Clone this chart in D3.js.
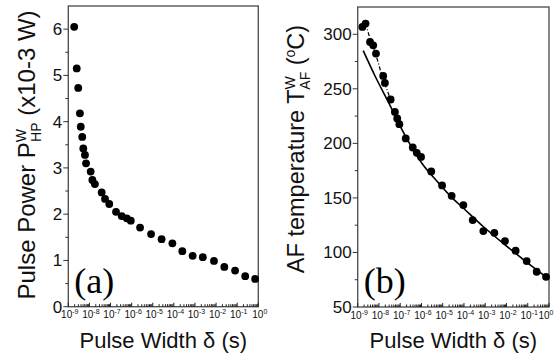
<!DOCTYPE html>
<html>
<head>
<meta charset="utf-8">
<script src="https://cdn.jsdelivr.net/npm/d3@7"></script>
<style>
  body { margin: 0; background: #fff; }
  svg { display: block; font-family: Arial, "Liberation Sans", sans-serif; }
</style>
</head>
<body>
<div id="chart"></div>
<script>
// panel (a): pulse power vs pulse width (log10 of width in s)
const logWidthA = [-8.72, -8.60, -8.53, -8.45, -8.41, -8.34, -8.29, -8.21, -8.16, -7.94,
  -7.86, -7.74, -7.42, -7.26, -7.06, -6.74, -6.47, -6.23, -6.04, -5.60,
  -5.08, -4.58, -4.07, -3.60, -3.11, -2.63, -2.10, -1.61, -1.10, -0.62, -0.15];
const powerA = [6.05, 5.15, 4.73, 4.18, 3.89, 3.67, 3.42, 3.28, 3.10, 2.92,
  2.74, 2.65, 2.47, 2.33, 2.22, 2.05, 1.96, 1.91, 1.86, 1.71,
  1.57, 1.46, 1.37, 1.20, 1.10, 1.07, 0.99, 0.86, 0.78, 0.66, 0.60];

// panel (b): AF temperature vs pulse width
const logWidthB = [-8.78, -8.63, -8.42, -8.27, -8.14, -7.80, -7.72, -7.45, -7.25, -7.14,
  -7.04, -6.74, -6.41, -6.22, -6.02, -5.54, -5.03, -4.58, -4.03, -3.59,
  -3.09, -2.57, -2.07, -1.57, -1.05, -0.58, -0.14];
const tempB = [306.7, 309.8, 293.0, 289.9, 282.3, 261.8, 255.4, 240.2, 228.8, 222.8,
  217.6, 204.5, 196.2, 191.3, 187.6, 174.3, 161.4, 151.9, 143.4, 129.7,
  119.6, 118.0, 110.4, 101.6, 92.1, 82.3, 77.7];

// solid fit curve in (b)
const fitLogB = [-8.74, -8.19, -7.56, -6.93, -5.99, -5.21, -4.58, -4.05, -3.11, -2.07, -1.04, 0];
const fitTempB = [285, 262, 238, 213, 182, 164, 150.5, 141, 124, 107, 91, 75.6];

// dash-dot guide through the first points of (b)
const guideLogB = [-8.63, -8.42, -8.14, -7.80, -7.45];
const guideTempB = [309.8, 296.0, 281.0, 258.0, 240.2];

const decadeTicks = d3.range(-9, 1);
const yTicksA = d3.range(0, 7, 1);
const yTicksB = d3.range(50, 301, 50);

const width = 554, height = 360;

const svg = d3.select('#chart').append('svg')
  .attr('width', width)
  .attr('height', height);

function drawPanel(cfg) {
  const x = d3.scaleLog().domain([1e-9, 1]).range([cfg.left, cfg.right]);
  const y = d3.scaleLinear().domain(cfg.yDomain).range([cfg.bottom, cfg.top]);
  const g = svg.append('g');

  // frame
  g.append('rect')
    .attr('x', cfg.left).attr('y', cfg.top)
    .attr('width', cfg.right - cfg.left).attr('height', cfg.bottom - cfg.top)
    .attr('fill', 'none').attr('stroke', '#555').attr('stroke-width', 1.4);

  // x ticks (inside), minor + major
  const xt = x.ticks(10);
  g.selectAll('.xtick').data(xt).enter().append('line')
    .attr('x1', d => x(d)).attr('x2', d => x(d))
    .attr('y1', cfg.bottom)
    .attr('y2', d => Math.abs(Math.log10(d) - Math.round(Math.log10(d))) < 1e-6 ? cfg.bottom - 4 : cfg.bottom - 2.5)
    .attr('stroke', '#222').attr('stroke-width', 1);

  // decade labels; keep the last one inside the page
  const xl = g.selectAll('.xlab').data(decadeTicks).enter().append('text')
    .attr('x', d => Math.min(x(Math.pow(10, d)) + 1.5, width - 8))
    .attr('y', cfg.bottom + 11.5)
    .attr('text-anchor', 'middle')
    .attr('font-size', 10)
    .attr('fill', '#111');
  xl.append('tspan').text('10');
  xl.append('tspan').attr('dy', -4).attr('font-size', 7).text(d => String(d));

  // y ticks (outside)
  g.selectAll('.ymin').data(cfg.yMinor).enter().append('line')
    .attr('x1', cfg.left - 3).attr('x2', cfg.left)
    .attr('y1', d => y(d)).attr('y2', d => y(d))
    .attr('stroke', '#333').attr('stroke-width', 1);
  g.selectAll('.ymaj').data(cfg.yTicks).enter().append('line')
    .attr('x1', cfg.left - 5).attr('x2', cfg.left)
    .attr('y1', d => y(d)).attr('y2', d => y(d))
    .attr('stroke', '#333').attr('stroke-width', 1);
  g.selectAll('.ylab').data(cfg.yTicks).enter().append('text')
    .attr('x', cfg.left - 6)
    .attr('y', d => y(d) + 6)
    .attr('text-anchor', 'end')
    .attr('font-size', 17)
    .attr('fill', '#111')
    .text(d => d);

  // lines
  if (cfg.fit) {
    const line = d3.line().x(d => x(Math.pow(10, d[0]))).y(d => y(d[1])).curve(d3.curveMonotoneX);
    g.append('path')
      .datum(d3.zip(cfg.fit[0], cfg.fit[1]))
      .attr('d', line).attr('fill', 'none').attr('stroke', '#000').attr('stroke-width', 1.6);
    g.append('path')
      .datum(d3.zip(cfg.guide[0], cfg.guide[1]))
      .attr('d', d3.line().x(d => x(Math.pow(10, d[0]))).y(d => y(d[1])))
      .attr('fill', 'none').attr('stroke', '#000').attr('stroke-width', 1.2)
      .attr('stroke-dasharray', '4,2,1,2');
  }

  // dots
  g.selectAll('.dot').data(d3.zip(cfg.xs, cfg.ys)).enter().append('circle')
    .attr('cx', d => x(Math.pow(10, d[0])))
    .attr('cy', d => y(d[1]))
    .attr('r', 3.9)
    .attr('fill', '#000');

  // panel letter
  g.append('text')
    .attr('x', cfg.left + 6).attr('y', cfg.bottom - 14)
    .attr('font-family', '"Liberation Serif", "Times New Roman", serif')
    .attr('font-size', 36)
    .text(cfg.letter);

  // x label
  g.append('text')
    .attr('x', (cfg.left + cfg.right) / 2).attr('y', 348)
    .attr('text-anchor', 'middle')
    .attr('font-size', 22)
    .attr('fill', '#111')
    .text('Pulse Width δ (s)');

  // y label
  const yl = g.append('text')
    .attr('transform', `translate(${cfg.yLabelX},${cfg.yLabelY}) rotate(-90)`)
    .attr('text-anchor', 'middle')
    .attr('font-size', cfg.yLabelSize)
    .attr('fill', '#111');
  cfg.yLabel(yl);
}

drawPanel({
  left: 68.3, right: 258.3, top: 6, bottom: 306.7,
  yDomain: [0, 6.5], yTicks: yTicksA, yMinor: d3.range(0.5, 6.5, 1),
  xs: logWidthA, ys: powerA, letter: '(a)',
  yLabelX: 35, yLabelY: 155, yLabelSize: 24,
  yLabel: t => {
    t.append('tspan').text('Pulse Power P');
    t.append('tspan').attr('font-size', 14).attr('dy', -9).text('W');
    t.append('tspan').attr('font-size', 14).attr('dx', -13).attr('dy', 15).text('HP');
    t.append('tspan').attr('dy', -6).text(' (x10-3 W)');
  }
});

drawPanel({
  left: 357.7, right: 549, top: 7, bottom: 307,
  yDomain: [50, 325], yTicks: yTicksB, yMinor: d3.range(75, 325, 50),
  xs: logWidthB, ys: tempB, letter: '(b)',
  fit: [fitLogB, fitTempB], guide: [guideLogB, guideTempB],
  yLabelX: 304, yLabelY: 149, yLabelSize: 23.5,
  yLabel: t => {
    t.append('tspan').text('AF temperature T');
    t.append('tspan').attr('font-size', 14).attr('dy', -9).text('W');
    t.append('tspan').attr('font-size', 14).attr('dx', -13).attr('dy', 15).text('AF');
    t.append('tspan').attr('dy', -6).text(' (');
    t.append('tspan').attr('font-size', 14).attr('dy', -9).text('o');
    t.append('tspan').attr('dy', 9).text('C)');
  }
});
</script>
</body>
</html>
